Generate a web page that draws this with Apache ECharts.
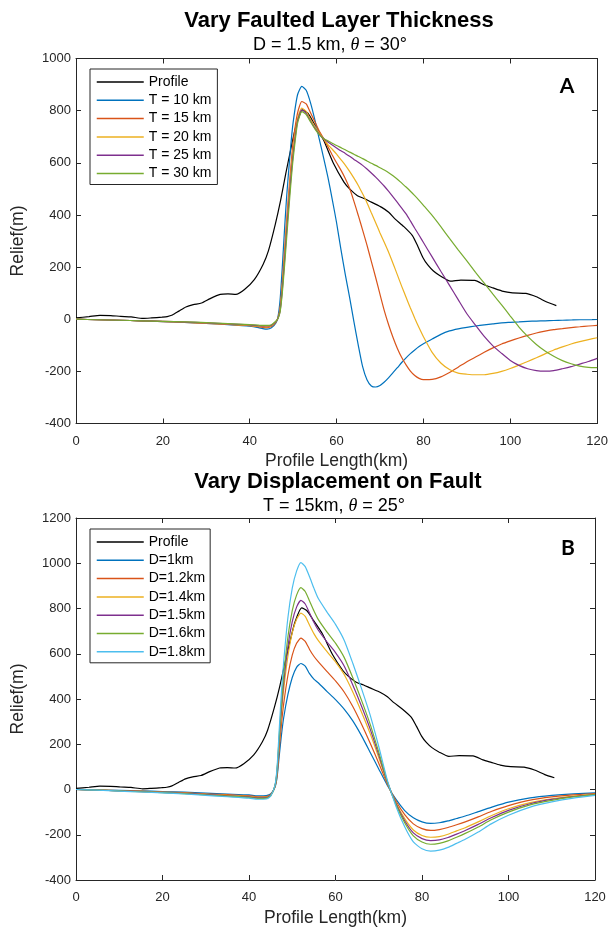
<!DOCTYPE html>
<html><head><meta charset="utf-8">
<script src="https://cdn.jsdelivr.net/npm/echarts/dist/echarts.min.js"></script>
<style>html,body{margin:0;padding:0;background:#fff}#c{width:611px;height:928px}</style>
</head><body><div id="c"></div>
<script>
// ---------- data ----------
const xTicks = [0, 20, 40, 60, 80, 100, 120];
const yTicksA = [-400, -200, 0, 200, 400, 600, 800, 1000];
const yTicksB = [-400, -200, 0, 200, 400, 600, 800, 1000, 1200];

const profileX = [0,3,5.5,8,10.3,12.7,15.4,17.4,19.8,21,22.2,23.7,25.3,27,28.9,30.9,33.2,35,36.8,38.8,41.1,43.1,44.3,45.9,47.1,48.3,49.4,50.6,52.2,53.4,55,57,59.3,61.7,63,64.8,66.5,68,70.4,72,73.5,75.5,77.5,78.7,79.9,81,82.3,84,86.2,88.6,91.8,94.1,96,98.1,100.5,103.6,106,108.4,110.6];
const profileY = [5,10,15,14,11,9,3,5,8,10,16,31,47,56,62,79,95,97,95,114,153,211,262,365,455,558,648,738,803,790,745,687,597,526,500,474,462,449,429,410,384,355,320,280,236,208,185,165,146,150,149,131,120,108,101,99,86,66,52];

// Panel A: vary faulted layer thickness
const xA = [0,5,10,15,20,25,30,35,40,42,43,44,45,46,46.5,47,47.5,48,48.5,49,49.5,50,51,52,53,54,55,56,57,58,59,60,61,62,63,64,65,66,67,68,69,70,71,72,73,74,75,76,77,78,79,80,82,84,86,88,90,92,94,96,98,100,102,104,106,108,110,112,114,116,118,120];
const t10 = [0,-2,-4,-6,-9,-12,-16,-21,-27,-32, -36,-38,-33,-15, 8,75,200,340,470,575,675,755,
  860,893,878,830,765,692,620,545,460,370,268,172,84,-10,-100,-182,-232,-256,-260,-254,-241,-224,-205,-186,-166,-148,-132,-118,-105,-94,
  -76,-58,-45,-37,-31,-26,-22,-18,-14,-12,-10,-8,-7,-6,-5,-4,-3,-2,-2,-1];
const t15 = [0,-2,-4,-6,-9,-12,-16,-20,-25,-29, -31,-32,-28,-12, 5,45,140,260,380,490,590,680,
  790,835,826,792,757,722,693,662,630,600,572,540,502,452,398,342,284,222,160,95,32,-22,-70,-112,-147,-175,-199,-216,-227,-232,
  -231,-221,-204,-184,-163,-145,-127,-110,-95,-83,-72,-62,-53,-46,-40,-36,-32,-29,-26,-24];
const t20 = [0,-2,-4,-6,-8,-11,-15,-19,-24,-27, -28,-29,-25,-10, 4,38,125,240,360,465,565,650,
  770,810,797,767,740,715,692,670,652,633,612,591,567,541,513,481,447,408,370,331,294,256,214,170,126,84,43,4,-33,-67,
  -127,-168,-193,-207,-211,-213,-213,-208,-200,-189,-176,-162,-148,-133,-118,-106,-95,-86,-78,-71];
const t25 = [0,-2,-4,-6,-8,-11,-14,-18,-22,-25, -26,-26,-23,-9, 3,32,112,220,335,445,545,632,
  760,803,790,760,733,710,693,680,668,657,646,636,625,613,602,590,576,561,545,528,510,490,469,448,426,404,377,349,322,294,
  239,184,130,75,21,-23,-66,-102,-131,-158,-177,-190,-197,-199,-197,-190,-182,-172,-162,-150];
const t30 = [0,-2,-4,-6,-8,-10,-13,-17,-21,-23, -24,-24,-21,-8, 2,28,100,200,310,420,525,615,
  750,796,785,757,730,708,693,684,675,666,658,650,641,633,624,616,607,598,590,581,572,562,550,537,522,507,491,474,456,437,
  398,355,310,266,224,180,138,96,55,12,-30,-66,-97,-122,-142,-159,-171,-180,-185,-186];

// Panel B: vary displacement on fault
const xB = [0,5,10,15,20,25,30,35,40,42,44,45,46,46.5,47,47.5,48,49,50,51,52,53,54,55,56,58,60,62,64,66,68,70,72,74,76,78,80,82,84,86,88,90,93,96,100,105,110,115,120];
const d10 = [0,-2,-4,-6,-9,-12,-16,-20,-24,-28, -27,-20,10, 55,150,240,315, 420,495,540,557,545,512,488,472, 434,397,355,303,238,165,91,18,-44,-93,-125,-143,-150,-147,-139,-128,-117, -98,-79,-56,-37,-26,-19,-15];
const d12 = [0,-2,-5,-7,-11,-14,-19,-23,-28,-32, -31,-23,12, 66,180,288,376, 505,594,646,669,655,619,589,565, 522,480,431,367,290,206,116,24,-52,-111,-152,-173,-181,-177,-168,-156,-143, -121,-97,-71,-47,-33,-24,-18];
const d14 = [0,-2,-6,-8,-12,-16,-21,-26,-31,-35, -34,-25,14, 78,210,335,438, 590,693,753,780,765,726,689,659, 610,564,508,431,343,248,141,29,-60,-129,-179,-203,-211,-208,-198,-183,-169, -143,-116,-85,-58,-41,-29,-21];
const d15 = [0,-3,-6,-9,-13,-17,-22,-28,-33,-37, -36,-26,15, 83,225,359,468, 633,742,806,836,820,780,739,705, 653,605,546,462,369,268,153,32,-63,-138,-192,-217,-226,-223,-212,-197,-181, -154,-125,-92,-63,-44,-31,-22];
const d16 = [0,-3,-6,-10,-14,-18,-24,-29,-35,-39, -38,-28,16, 89,240,383,499, 675,791,859,892,875,833,790,752, 697,647,584,494,395,289,165,35,-67,-147,-205,-232,-242,-238,-227,-211,-194, -166,-134,-100,-68,-48,-33,-23];
const d18 = [0,-3,-7,-11,-15,-20,-26,-32,-38,-43, -42,-30,18, 100,270,430,560, 760,890,965,1003,985,940,890,845, 785,730,660,558,447,330,190,40,-75,-165,-232,-262,-272,-268,-256,-238,-220, -188,-152,-114,-78,-55,-38,-26];

const namesA = ['Profile', 'T = 10 km', 'T = 15 km', 'T = 20 km', 'T = 25 km', 'T = 30 km'];
const namesB = ['Profile', 'D=1km', 'D=1.2km', 'D=1.4km', 'D=1.5km', 'D=1.6km', 'D=1.8km'];
const colors = ['#000000', '#0072BD', '#D95319', '#EDB120', '#7E2F8E', '#77AC30', '#4DBEEE'];

// ---------- chart ----------
const FONT = 'Liberation Sans, Arial, sans-serif';
const AX = '#262626';
const chart = echarts.init(document.getElementById('c'), null, {renderer: 'canvas'});

function pairs(xs, ys) { return xs.map((x, i) => [x, ys[i]]); }
function line(name, xs, ys, color, idx) {
  return {
    type: 'line', name: name, xAxisIndex: idx * 2, yAxisIndex: idx * 2,
    data: pairs(xs, ys), symbol: 'none', smooth: 0.2,
    lineStyle: {color: color, width: 1.2}, itemStyle: {color: color},
    emphasis: {disabled: true}, z: 3
  };
}
function xAxes(gi) {
  const base = {gridIndex: gi, type: 'value', min: 0, max: 120, interval: 20,
    splitLine: {show: false},
    axisLine: {show: true, onZero: false, lineStyle: {color: AX, width: 1}},
    axisTick: {show: true, inside: true, length: 5, lineStyle: {color: AX}}};
  return [
    Object.assign({}, base, {position: 'bottom',
      axisLabel: {margin: 11, fontSize: 13, fontFamily: FONT, color: AX,
        formatter: v => xTicks.includes(v) ? String(v) : ''},
      name: 'Profile Length(km)', nameLocation: 'middle', nameGap: 29,
      nameTextStyle: {fontSize: 17.5, fontFamily: FONT, color: AX}}),
    Object.assign({}, base, {position: 'top', axisLabel: {show: false}})
  ];
}
function yAxes(gi, lo, hi, ticks) {
  const base = {gridIndex: gi, type: 'value', min: lo, max: hi, interval: 200,
    splitLine: {show: false},
    axisLine: {show: true, onZero: false, lineStyle: {color: AX, width: 1}},
    axisTick: {show: true, inside: true, length: 5, lineStyle: {color: AX}}};
  return [
    Object.assign({}, base, {position: 'left',
      axisLabel: {margin: 5, fontSize: 13, fontFamily: FONT, color: AX,
        formatter: v => ticks.includes(v) ? String(v) : ''},
      name: 'Relief(m)', nameLocation: 'middle', nameGap: 49,
      nameTextStyle: {fontSize: 17.5, fontFamily: FONT, color: AX}}),
    Object.assign({}, base, {position: 'right', axisLabel: {show: false}})
  ];
}
function legend(names, left, top, pad) {
  return {
    data: names, orient: 'vertical', left: left, top: top,
    backgroundColor: '#ffffff', borderColor: AX, borderWidth: 1, borderRadius: 0,
    padding: pad, itemWidth: 47, itemHeight: 14, itemGap: 4.3,
    selectedMode: false,
    itemStyle: {opacity: 0, borderWidth: 0},
    lineStyle: {width: 1.5},
    textStyle: {fontSize: 14, fontFamily: FONT, color: '#000'}
  };
}

const seriesA = [line(namesA[0], profileX, profileY, colors[0], 0)];
[t10, t15, t20, t25, t30].forEach((ys, i) => seriesA.push(line(namesA[i + 1], xA, ys, colors[i + 1], 0)));
const seriesB = [line(namesB[0], profileX, profileY, colors[0], 1)];
[d10, d12, d14, d15, d16, d18].forEach((ys, i) => seriesB.push(line(namesB[i + 1], xB, ys, colors[i + 1], 1)));

function sub(pre, post) {
  return {
    text: '{n|' + pre + '}{t|θ}{n|' + post + '}',
    rich: {n: {font: '18px ' + FONT, fill: '#000'}, t: {font: 'italic 18px Liberation Serif, serif', fill: '#000'}},
    align: 'center', verticalAlign: 'middle'
  };
}

chart.setOption({
  animation: false,
  backgroundColor: '#ffffff',
  grid: [
    {left: 76, top: 58.5, width: 524, height: 365, containLabel: false},
    {left: 76, top: 518, width: 519, height: 365, containLabel: false}
  ],
  xAxis: xAxes(0).concat(xAxes(1)),
  yAxis: yAxes(0, -400, 1000, yTicksA).concat(yAxes(1, -400, 1200, yTicksB)),
  legend: [legend(namesA, 90, 69, [6, 6, 4, 6]), legend(namesB, 90, 529, [6, 5, 4, 6])],
  series: seriesA.concat(seriesB),
  graphic: [
    {type: 'text', x: 339, y: 21, style: {text: 'Vary Faulted Layer Thickness', font: 'bold 22px ' + FONT, fill: '#000', align: 'center', verticalAlign: 'middle'}},
    {type: 'text', x: 330, y: 45, style: sub('D = 1.5 km, ', ' = 30°')},
    {type: 'text', x: 338, y: 482, style: {text: 'Vary Displacement on Fault', font: 'bold 22px ' + FONT, fill: '#000', align: 'center', verticalAlign: 'middle'}},
    {type: 'text', x: 334, y: 506, style: sub('T = 15km, ', ' = 25°')},
    {type: 'text', x: 567, y: 86, style: {text: 'A', font: 'bold 21px Lato, ' + FONT, fill: '#000', align: 'center', verticalAlign: 'middle'}},
    {type: 'text', x: 568, y: 548, style: {text: 'B', font: 'bold 21px Lato, ' + FONT, fill: '#000', align: 'center', verticalAlign: 'middle'}}
  ]
});
</script>
</body></html>
